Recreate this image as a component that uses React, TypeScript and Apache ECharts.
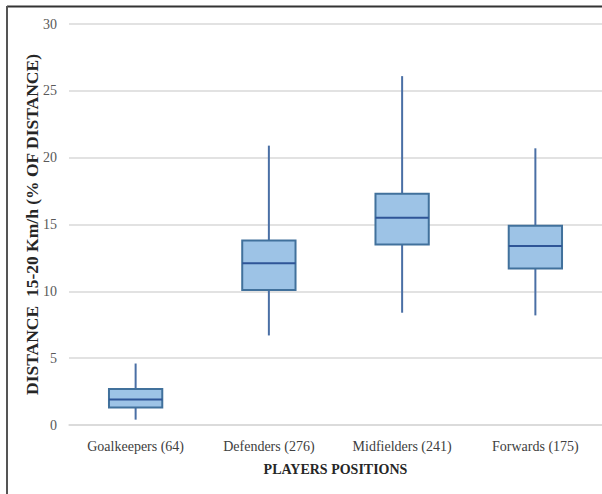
import React, { useEffect, useRef } from "react";
import * as echarts from "echarts";

const categories = ["Goalkeepers (64)", "Defenders (276)", "Midfielders (241)", "Forwards (175)"];
const whiskerMin = [0.4, 6.7, 8.4, 8.2];
const q1 = [1.3, 10.1, 13.5, 11.7];
const median = [1.9, 12.1, 15.5, 13.4];
const q3 = [2.7, 13.8, 17.3, 14.9];
const whiskerMax = [4.6, 20.9, 26.1, 20.7];
const yTicks = { min: 0, max: 30, interval: 5 };

const serif = "Liberation Serif, Times New Roman, serif";

export default function App() {
  const ref = useRef<HTMLDivElement>(null);
  useEffect(() => {
    if (!ref.current) return;
    const chart = echarts.init(ref.current, null, { renderer: "svg" });
    const data = categories.map((_, i) => [i, whiskerMin[i], q1[i], median[i], q3[i], whiskerMax[i]]);
    chart.setOption({
      animation: false,
      backgroundColor: "#ffffff",
      grid: { left: 69, top: 24, width: 533, height: 401 },
      xAxis: {
        type: "category",
        data: categories,
        boundaryGap: true,
        axisLine: { show: true, lineStyle: { color: "#D9D9D9", width: 1.5 } },
        axisTick: { show: false },
        axisLabel: { color: "#404040", fontFamily: serif, fontSize: 14, margin: 14 },
        name: "PLAYERS POSITIONS",
        nameLocation: "middle",
        nameGap: 37,
        nameMoveOverlap: false,
        nameTextStyle: { color: "#262626", fontFamily: serif, fontSize: 14, fontWeight: "bold" },
      },
      yAxis: {
        type: "value",
        min: yTicks.min,
        max: yTicks.max,
        interval: yTicks.interval,
        axisLine: { show: false },
        axisTick: { show: false },
        axisLabel: { color: "#595959", fontFamily: serif, fontSize: 14, margin: 12 },
        splitLine: { lineStyle: { color: "#D9D9D9", width: 1.5 } },
        name: "DISTANCE  15-20 Km/h (% OF DISTANCE)",
        nameLocation: "middle",
        nameGap: 28,
        nameMoveOverlap: false,
        nameTextStyle: { color: "#262626", fontFamily: serif, fontSize: 17.5, fontWeight: "bold" },
      },
      graphic: [
        { type: "line", shape: { x1: 7, y1: 6.5, x2: 602, y2: 6.5 }, style: { stroke: "#333333", lineWidth: 2 }, z: 100 },
        { type: "line", shape: { x1: 7, y1: 6, x2: 7, y2: 494 }, style: { stroke: "#555555", lineWidth: 2 }, z: 100 },
      ],
      series: [
        {
          type: "custom",
          data,
          encode: { x: 0, y: [1, 2, 3, 4, 5] },
          renderItem: (params: any, api: any) => {
            const idx = api.value(0);
            const pMin = api.coord([idx, api.value(1)]);
            const pQ1 = api.coord([idx, api.value(2)]);
            const pMed = api.coord([idx, api.value(3)]);
            const pQ3 = api.coord([idx, api.value(4)]);
            const pMax = api.coord([idx, api.value(5)]);
            const w = api.size([1, 0])[0] * 0.4;
            const x = pMed[0];
            const whisk = { stroke: "#4A6FA5", lineWidth: 2 };
            return {
              type: "group",
              children: [
                { type: "line", shape: { x1: x, y1: pMin[1], x2: x, y2: pQ1[1] }, style: whisk },
                { type: "line", shape: { x1: x, y1: pQ3[1], x2: x, y2: pMax[1] }, style: whisk },
                {
                  type: "rect",
                  shape: { x: x - w / 2, y: pQ3[1], width: w, height: pQ1[1] - pQ3[1] },
                  style: { fill: "#9DC3E6", stroke: "#41719C", lineWidth: 2 },
                },
                {
                  type: "line",
                  shape: { x1: x - w / 2, y1: pMed[1], x2: x + w / 2, y2: pMed[1] },
                  style: { stroke: "#2F5597", lineWidth: 2 },
                },
              ],
            };
          },
        },
      ],
    });
    return () => chart.dispose();
  }, []);
  return <div ref={ref} style={{ position: "absolute", left: 0, top: 0, width: 602, height: 494 }} />;
}
